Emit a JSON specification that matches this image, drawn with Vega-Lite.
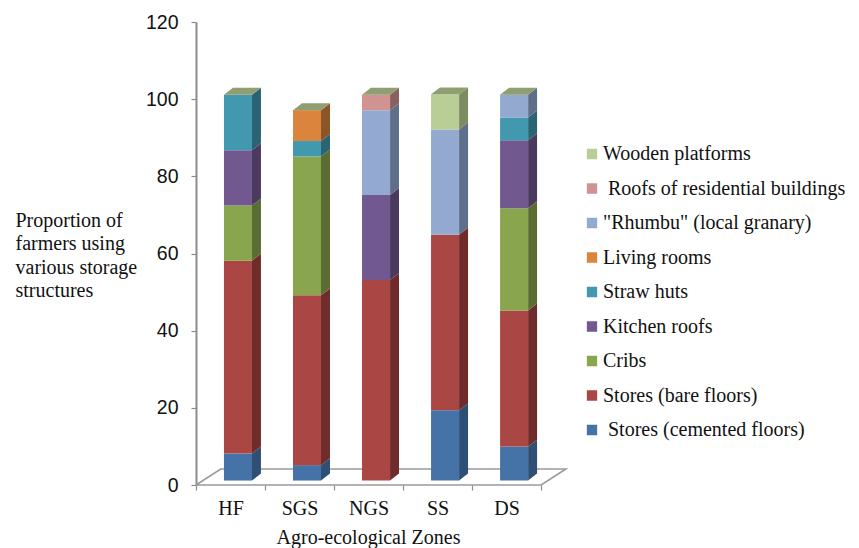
{
  "$schema": "https://vega.github.io/schema/vega-lite/v6.json",
  "width": 370,
  "height": 463,
  "autosize": {"type": "none"},
  "padding": {"left": 196, "top": 22, "right": 293, "bottom": 63},
  "background": "white",
  "config": {"view": {"stroke": null}},
  "data": {
    "values": [
      {"zone": "HF", "series": "Stores (cemented floors)", "value": 7},
      {"zone": "HF", "series": "Stores (bare floors)", "value": 50},
      {"zone": "HF", "series": "Cribs", "value": 14.3},
      {"zone": "HF", "series": "Kitchen roofs", "value": 14.3},
      {"zone": "HF", "series": "Straw huts", "value": 14.4},
      {"zone": "SGS", "series": "Stores (cemented floors)", "value": 4},
      {"zone": "SGS", "series": "Stores (bare floors)", "value": 44},
      {"zone": "SGS", "series": "Cribs", "value": 36},
      {"zone": "SGS", "series": "Straw huts", "value": 4},
      {"zone": "SGS", "series": "Living rooms", "value": 8},
      {"zone": "NGS", "series": "Stores (bare floors)", "value": 52},
      {"zone": "NGS", "series": "Kitchen roofs", "value": 22},
      {"zone": "NGS", "series": "\"Rhumbu\" (local granary)", "value": 22},
      {"zone": "NGS", "series": "Roofs of residential buildings", "value": 4},
      {"zone": "SS", "series": "Stores (cemented floors)", "value": 18.2},
      {"zone": "SS", "series": "Stores (bare floors)", "value": 45.5},
      {"zone": "SS", "series": "\"Rhumbu\" (local granary)", "value": 27.3},
      {"zone": "SS", "series": "Wooden platforms", "value": 9.1},
      {"zone": "DS", "series": "Stores (cemented floors)", "value": 8.8},
      {"zone": "DS", "series": "Stores (bare floors)", "value": 35.3},
      {"zone": "DS", "series": "Cribs", "value": 26.5},
      {"zone": "DS", "series": "Kitchen roofs", "value": 17.6},
      {"zone": "DS", "series": "Straw huts", "value": 5.9},
      {"zone": "DS", "series": "\"Rhumbu\" (local granary)", "value": 5.9}
    ]
  },
  "transform": [
    {"calculate": "indexof(['Stores (cemented floors)','Stores (bare floors)','Cribs','Kitchen roofs','Straw huts','Living rooms','\"Rhumbu\" (local granary)','Roofs of residential buildings','Wooden platforms'], datum.series)", "as": "rank"},
    {"stack": "value", "groupby": ["zone"], "sort": [{"field": "rank", "order": "ascending"}], "as": ["v0", "v1"]},
    {"calculate": "indexof(['HF','SGS','NGS','SS','DS'], datum.zone) + 0.405", "as": "xl"},
    {"calculate": "datum.xl + 0.406", "as": "xr"},
    {"calculate": "datum.v0 + 1.15", "as": "y0"},
    {"calculate": "datum.v1 + 1.15", "as": "y1"},
    {"calculate": "(datum.series == 'Roofs of residential buildings' || datum.series == 'Stores (cemented floors)') ? '\u200b\u00a0' + datum.series : datum.series", "as": "entry"}
  ],
  "layer": [
    {
      "data": {
        "values": [
          {"fx": 0, "fy": 0, "seq": 0},
          {"fx": 5, "fy": 0, "seq": 1},
          {"fx": 5.358, "fy": 4.15, "seq": 2},
          {"fx": 0.358, "fy": 4.15, "seq": 3},
          {"fx": 0, "fy": 0, "seq": 4}
        ]
      },
      "transform": [],
      "mark": {"type": "line", "stroke": "#9a9a9a", "strokeWidth": 1.6, "clip": false},
      "encoding": {
        "x": {
          "field": "fx", "type": "quantitative",
          "scale": {"domain": [0, 5.36], "nice": false, "zero": false},
          "axis": {
            "values": [0, 1, 2, 3, 4, 5],
            "domain": false, "grid": false,
            "tickColor": "#8c8c8c", "tickSize": 5, "tickWidth": 1.2,
            "labelExpr": "['HF','SGS','NGS','SS','DS',''][datum.value]",
            "labelOffset": 34.5, "labelBound": false, "labelFlush": false,
            "labelFont": "Liberation Serif", "labelFontSize": 20, "labelColor": "#111111",
            "labelPadding": 8, "labelAngle": 0,
            "title": "Agro-ecological Zones",
            "titleFont": "Liberation Serif", "titleFontSize": 20, "titleFontWeight": "normal", "titleColor": "#111111",
            "titleX": 172, "titleY": 58, "titleAnchor": "middle", "titleAlign": "center", "titleBaseline": "alphabetic"
          }
        },
        "y": {
          "field": "fy", "type": "quantitative",
          "scale": {"domain": [0, 120], "nice": false},
          "axis": {
            "values": [0, 20, 40, 60, 80, 100, 120],
            "grid": false,
            "domainColor": "#8c8c8c", "domainWidth": 2,
            "tickColor": "#8c8c8c", "tickSize": 5, "tickWidth": 1.2,
            "labelFont": "Liberation Sans", "labelFontSize": 19.5, "labelColor": "#111111", "labelPadding": 13,
            "title": ["Proportion of", "farmers using", "various storage", "structures"],
            "titleFont": "Liberation Serif", "titleFontSize": 20, "titleFontWeight": "normal", "titleColor": "#111111",
            "titleAngle": 0, "titleAlign": "left", "titleBaseline": "alphabetic",
            "titleX": -181, "titleY": 204, "titleLineHeight": 23.5
          }
        },
        "order": {"field": "seq", "type": "quantitative"}
      }
    },
    {
      "transform": [
        {"calculate": "[0, 1]", "as": "pt"},
        {"flatten": ["pt"]},
        {"calculate": "datum.xr + datum.pt * 0.13", "as": "sx"},
        {"calculate": "datum.y0 + datum.pt * 1.8", "as": "sy0"},
        {"calculate": "datum.y1 + datum.pt * 1.8", "as": "sy1"}
      ],
      "mark": {"type": "area", "orient": "vertical"},
      "encoding": {
        "x": {"field": "sx", "type": "quantitative", "scale": {"domain": [0, 5.36], "nice": false, "zero": false}},
        "y": {"field": "sy1", "type": "quantitative", "scale": {"domain": [0, 120], "nice": false}, "stack": null},
        "y2": {"field": "sy0"},
        "detail": {"field": "zone"},
        "color": {
          "field": "series", "type": "nominal", "legend": null,
          "scale": {
            "domain": ["Wooden platforms", "Roofs of residential buildings", "\"Rhumbu\" (local granary)", "Living rooms", "Straw huts", "Kitchen roofs", "Cribs", "Stores (bare floors)", "Stores (cemented floors)"],
            "range": ["#7d8b63", "#8a6060", "#5f6f89", "#8c5528", "#2a6474", "#4a3a5e", "#5a6d33", "#6f2c2b", "#2f4f75"]
          }
        }
      }
    },
    {
      "mark": {"type": "rect"},
      "encoding": {
        "x": {"field": "xl", "type": "quantitative", "scale": {"domain": [0, 5.36], "nice": false, "zero": false}},
        "x2": {"field": "xr"},
        "y": {"field": "y0", "type": "quantitative", "scale": {"domain": [0, 120], "nice": false}},
        "y2": {"field": "y1"},
        "color": {
          "field": "entry", "type": "nominal",
          "scale": {
            "domain": ["Wooden platforms", "\u200b\u00a0Roofs of residential buildings", "\"Rhumbu\" (local granary)", "Living rooms", "Straw huts", "Kitchen roofs", "Cribs", "Stores (bare floors)", "\u200b\u00a0Stores (cemented floors)"],
            "range": ["#b9cd96", "#d19392", "#93a9cf", "#db843d", "#4198af", "#71588f", "#89a54e", "#aa4643", "#4572a7"]
          },
          "legend": {
            "orient": "none", "legendX": 386, "legendY": 122,
            "title": null, "symbolType": "square", "symbolSize": 106, "symbolStrokeWidth": 0,
            "labelFont": "Liberation Serif", "labelFontSize": 20, "labelColor": "#111111",
            "labelOffset": 1, "clipHeight": 20, "rowPadding": 14.5, "labelLimit": 300
          }
        }
      }
    },
    {
      "transform": [
        {"joinaggregate": [{"op": "max", "field": "y1", "as": "peak"}], "groupby": ["zone"]},
        {"filter": "datum.y1 == datum.peak"},
        {"calculate": "[0, 1, 2, 3]", "as": "pt"},
        {"flatten": ["pt"]},
        {"calculate": "[datum.xl, datum.xl + 0.13, datum.xr, datum.xr + 0.13][datum.pt]", "as": "tx"},
        {"calculate": "datum.peak + [0, 0, 0, 1.8][datum.pt]", "as": "tlo"},
        {"calculate": "datum.peak + [0, 1.8, 1.8, 1.8][datum.pt]", "as": "thi"}
      ],
      "mark": {"type": "area", "orient": "vertical", "color": "#8f9f71"},
      "encoding": {
        "x": {"field": "tx", "type": "quantitative", "scale": {"domain": [0, 5.36], "nice": false, "zero": false}},
        "y": {"field": "thi", "type": "quantitative", "scale": {"domain": [0, 120], "nice": false}, "stack": null},
        "y2": {"field": "tlo"},
        "detail": {"field": "zone"}
      }
    }
  ],
  "resolve": {"scale": {"color": "independent"}}
}
